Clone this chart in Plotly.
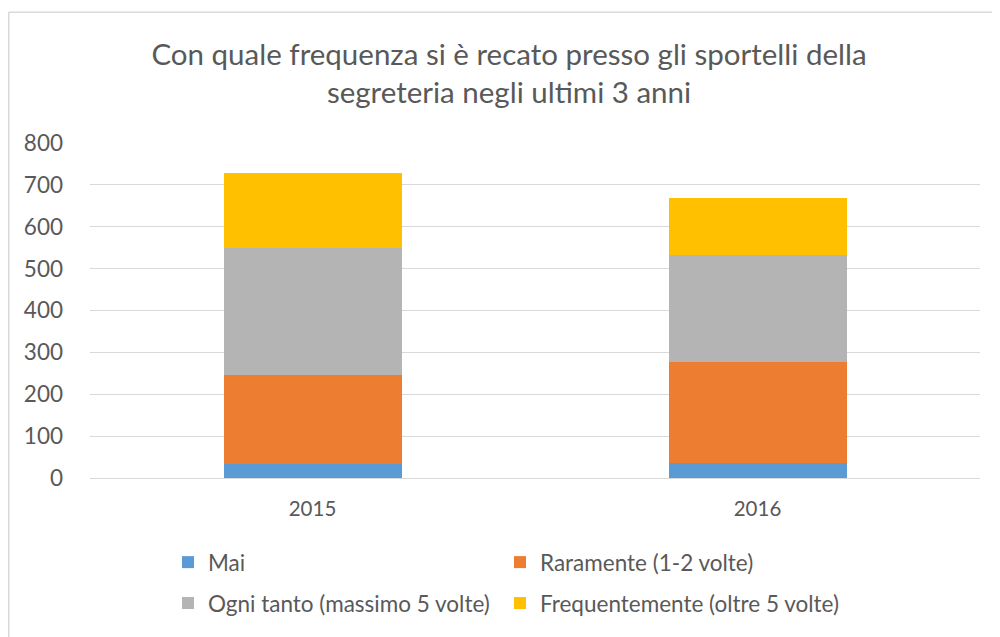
import plotly.graph_objects as go

years = ["2015", "2016"]
series_names = ["Mai", "Raramente (1-2 volte)", "Ogni tanto (massimo 5 volte)", "Frequentemente (oltre 5 volte)"]
mai = [33, 35]
raramente = [213, 243]
ogni_tanto = [303, 254]
frequentemente = [179, 137]
colors = ["#5B9BD5", "#ED7D31", "#B4B4B4", "#FFC000"]
y_ticks = [0, 100, 200, 300, 400, 500, 600, 700, 800]

FONT = "Lato, 'Open Sans', sans-serif"
GRAY = "#595959"

# page has an 8px body margin; work in reference coordinates and shift
OFF = 8
W, H = 1000 - OFF, 637 - OFF
L, R, T, B = 90 - OFF, 20, 143 - OFF, 637 - 480
pw = W - L - R
ph = H - T - B

def px_x(x):
    return (x - OFF - L) / pw

def px_y(y):
    return (H - B - (y - OFF)) / ph

fig = go.Figure()
values = [mai, raramente, ogni_tanto, frequentemente]
legend_ids = ["legend", "legend2", "legend3", "legend4"]
legend_pos = [(168, 565), (500, 565), (168, 606), (500, 606)]
for name, vals, col, lg in zip(series_names, values, colors, legend_ids):
    fig.add_trace(go.Bar(x=years, y=vals, name=name, marker=dict(color=col, line=dict(width=0)),
                         legend=lg))

legend_layout = {}
for lg, (lx, ly) in zip(legend_ids, legend_pos):
    legend_layout[lg] = dict(orientation="h", x=px_x(lx), xanchor="left", y=px_y(ly), yanchor="middle",
                             font=dict(size=22.5, color=GRAY), bgcolor="rgba(0,0,0,0)")

fig.update_layout(
    width=W, height=H,
    margin=dict(l=L, r=R, t=T, b=B),
    barmode="stack",
    bargap=0.6,
    plot_bgcolor="white",
    paper_bgcolor="white",
    font=dict(family=FONT, color=GRAY),
    title=dict(text="Con quale frequenza si è recato presso gli sportelli della<br>segreteria negli ultimi 3 anni",
               x=px_x(509), xanchor="center", y=1 - (65 - OFF) / H, yanchor="middle", xref="paper",
               font=dict(size=29.5, color=GRAY, family=FONT)),
    xaxis=dict(showgrid=False, ticks="", showline=False, tickfont=dict(size=20.5, color=GRAY),
               range=[-0.5, 1.5], ticklabelstandoff=16),
    yaxis=dict(range=[0, 800], tickvals=y_ticks, showgrid=True, gridcolor="#D9D9D9", gridwidth=1,
               zeroline=True, zerolinecolor="#D9D9D9", zerolinewidth=1,
               tickfont=dict(size=22.5, color=GRAY), ticks="", ticklabelstandoff=26,
               showline=False),
    showlegend=True,
    **legend_layout,
)

# chart border (top and left edges visible in the reference)
fig.add_shape(type="line", xref="paper", yref="paper", x0=px_x(8.75), x1=px_x(1010), y0=px_y(11.5), y1=px_y(11.5),
              line=dict(color="#D9D9D9", width=1.5))
fig.add_shape(type="line", xref="paper", yref="paper", x0=px_x(8.75), x1=px_x(8.75), y0=px_y(11.5), y1=px_y(650),
              line=dict(color="#D9D9D9", width=1.5))

fig.write_html("out.html")
